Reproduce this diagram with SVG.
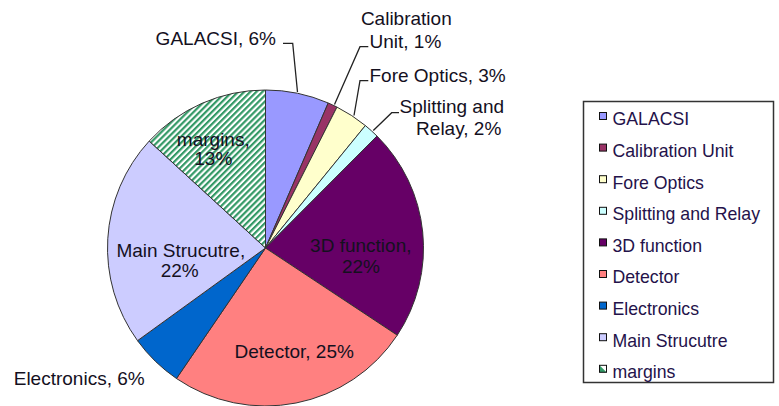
<svg xmlns="http://www.w3.org/2000/svg" width="779" height="406" viewBox="0 0 779 406">
  <defs>
    <pattern id="hatch" patternUnits="userSpaceOnUse" width="4.3" height="4.3" patternTransform="rotate(45)">
      <rect width="4.3" height="4.3" fill="#ffffff"/>
      <rect width="2.2" height="4.3" fill="#339966"/>
    </pattern>
    <style>
      .slice { stroke: #333333; stroke-width: 1; stroke-linejoin: round; }
      .lbl { font-family: "Liberation Sans", Arial, sans-serif; font-size: 19px; fill: #14101e; }
      .leg { font-family: "Liberation Sans", Arial, sans-serif; font-size: 17.7px; fill: #24124a; }
      .sw { stroke: #111111; stroke-width: 1; }
      .leader { fill: none; stroke: #222222; stroke-width: 1.3; }
    </style>
  </defs>
  <rect width="779" height="406" fill="#ffffff"/>

  <g id="pie">
    <g id="slice-galacsi"><path class="slice" fill="#9999FF" d="M265.5,248 L265.5,90 A158,158 0 0 1 328.24,102.99 Z"/></g>
    <g id="slice-calibration"><path class="slice" fill="#993366" d="M265.5,248 L328.24,102.99 A158,158 0 0 1 336.98,107.10 Z"/></g>
    <g id="slice-foreoptics"><path class="slice" fill="#FFFFCC" d="M265.5,248 L336.98,107.10 A158,158 0 0 1 365.36,125.57 Z"/></g>
    <g id="slice-splitting"><path class="slice" fill="#CCFFFF" d="M265.5,248 L365.36,125.57 A158,158 0 0 1 377.03,136.09 Z"/></g>
    <g id="slice-3d"><path class="slice" fill="#660066" d="M265.5,248 L377.03,136.09 A158,158 0 0 1 397.26,335.20 Z"/></g>
    <g id="slice-detector"><path class="slice" fill="#FF8080" d="M265.5,248 L397.26,335.20 A158,158 0 0 1 176.47,378.52 Z"/></g>
    <g id="slice-electronics"><path class="slice" fill="#0066CC" d="M265.5,248 L176.47,378.52 A158,158 0 0 1 137.52,340.65 Z"/></g>
    <g id="slice-main"><path class="slice" fill="#CCCCFF" d="M265.5,248 L137.52,340.65 A158,158 0 0 1 149.20,141.05 Z"/></g>
    <g id="slice-margins"><path class="slice" fill="url(#hatch)" d="M265.5,248 L149.20,141.05 A158,158 0 0 1 265.5,90 Z"/></g>
  </g>

  <g id="connectors">
    <polyline class="leader" points="283,43.3 292.7,43.3 297.5,92"/>
    <polyline class="leader" points="368.3,46.7 360,46.7 334.5,104.5"/>
    <polyline class="leader" points="368.3,80.7 360,80.7 354,115.5"/>
    <polyline class="leader" points="399,112.7 391.7,112.7 373.3,130.5"/>
  </g>

  <g id="labels">
    <text class="lbl" x="276" y="45" text-anchor="end">GALACSI, 6%</text>
    <text class="lbl" x="406.3" y="25" text-anchor="middle">Calibration</text>
    <text class="lbl" x="369.5" y="47.7">Unit, 1%</text>
    <text class="lbl" x="369.5" y="81.7">Fore Optics, 3%</text>
    <text class="lbl" x="399.5" y="113.3">Splitting and</text>
    <text class="lbl" x="458.7" y="135" text-anchor="middle">Relay, 2%</text>
    <text class="lbl" x="213.3" y="145.7" text-anchor="middle">margins,</text>
    <text class="lbl" x="213.3" y="165" text-anchor="middle">13%</text>
    <text class="lbl" x="360.8" y="251.7" text-anchor="middle">3D function,</text>
    <text class="lbl" x="361" y="273.3" text-anchor="middle">22%</text>
    <text class="lbl" x="180.8" y="256.7" text-anchor="middle">Main Strucutre,</text>
    <text class="lbl" x="179.7" y="277.3" text-anchor="middle">22%</text>
    <text class="lbl" x="294.2" y="358.3" text-anchor="middle">Detector, 25%</text>
    <text class="lbl" x="79.2" y="385" text-anchor="middle">Electronics, 6%</text>
  </g>

  <g id="legend">
    <rect x="583.5" y="101.5" width="190" height="281" fill="#ffffff" stroke="#333333" stroke-width="1.5"/>
    <g id="leg-galacsi"><rect class="sw" x="599.5" y="112.5" width="7" height="7" fill="#9999FF"/><text class="leg" x="612.5" y="125.3">GALACSI</text></g>
    <g id="leg-calibration"><rect class="sw" x="599.5" y="144.1" width="7" height="7" fill="#993366"/><text class="leg" x="612.5" y="156.9">Calibration Unit</text></g>
    <g id="leg-foreoptics"><rect class="sw" x="599.5" y="175.7" width="7" height="7" fill="#FFFFCC"/><text class="leg" x="612.5" y="188.5">Fore Optics</text></g>
    <g id="leg-splitting"><rect class="sw" x="599.5" y="207.3" width="7" height="7" fill="#CCFFFF"/><text class="leg" x="612.5" y="220.1">Splitting and Relay</text></g>
    <g id="leg-3d"><rect class="sw" x="599.5" y="238.9" width="7" height="7" fill="#660066"/><text class="leg" x="612.5" y="251.7">3D function</text></g>
    <g id="leg-detector"><rect class="sw" x="599.5" y="270.5" width="7" height="7" fill="#FF8080"/><text class="leg" x="612.5" y="283.3">Detector</text></g>
    <g id="leg-electronics"><rect class="sw" x="599.5" y="302.1" width="7" height="7" fill="#0066CC"/><text class="leg" x="612.5" y="314.9">Electronics</text></g>
    <g id="leg-main"><rect class="sw" x="599.5" y="333.7" width="7" height="7" fill="#CCCCFF"/><text class="leg" x="612.5" y="346.5">Main Strucutre</text></g>
    <g id="leg-margins"><rect x="599.5" y="365.3" width="7" height="7" fill="#ffffff"/><polygon points="599.5,372.3 599.5,365.3 606.5,365.3" fill="#ffffff"/><polygon points="599.5,372.3 606.5,365.3 606.5,372.3" fill="#339966" transform="rotate(90 603 368.8)"/><rect class="sw" x="599.5" y="365.3" width="7" height="7" fill="none"/><text class="leg" x="612.5" y="378.1">margins</text></g>
  </g>
</svg>
